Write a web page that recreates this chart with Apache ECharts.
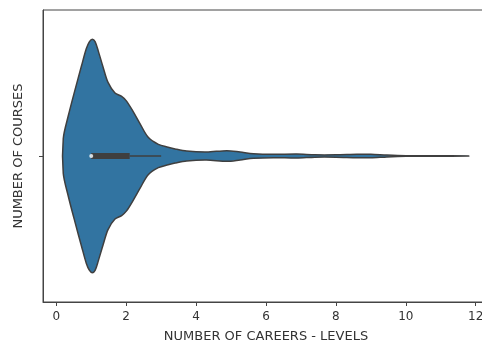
<!DOCTYPE html>
<html><head><meta charset="utf-8">
<script src="https://cdn.jsdelivr.net/npm/echarts@6/dist/echarts.min.js"></script>
<style>html,body{margin:0;padding:0;background:#fff}#c{width:482px;height:347px}</style>
</head><body><div id="c"></div>
<script>
// KDE outline of the violin: x positions and relative half-widths (peak = 1)
const densityX = [0.2, 0.34, 0.53, 0.72, 0.86, 0.95, 1.03, 1.11, 1.2, 1.34, 1.48, 1.68, 1.87, 2.01, 2.2, 2.39, 2.63, 2.92, 3.2, 3.4, 3.73, 4.3, 4.88, 5.26, 5.64, 6.21, 6.88, 7.4, 8.0, 8.6, 9.0, 9.46, 10.0, 10.8, 11.8];
const densityW = [0.15, 0.34, 0.56, 0.77, 0.92, 0.98, 1.0, 0.98, 0.9, 0.76, 0.63, 0.54, 0.51, 0.47, 0.38, 0.28, 0.16, 0.1, 0.075, 0.06, 0.042, 0.034, 0.046, 0.034, 0.02, 0.014, 0.017, 0.01, 0.01, 0.015, 0.015, 0.008, 0.003, 0.002, 0.001];
// inner box
const boxQ1 = 1.0;
const boxMedian = 1.0;
const boxQ3 = 2.1;
const whiskerHigh = 3.0;
const xTicks = [0, 2, 4, 6, 8, 10, 12];
const xTitle = 'NUMBER OF CAREERS - LEVELS';
const yTitle = 'NUMBER OF COURSES';
const violinHalfWidth = 0.4;

const chart = echarts.init(document.getElementById('c'), null, {renderer: 'canvas'});
const axisColor = '#444';
const textColor = '#333';
const font = 'DejaVu Sans';

chart.setOption({
  animation: false,
  backgroundColor: '#fff',
  grid: {left: 43, top: 10, width: 446, height: 292, show: true, borderColor: axisColor, borderWidth: 1, backgroundColor: 'transparent', outerBoundsMode: 'none', containLabel: false},
  xAxis: {
    type: 'value', min: -0.38, max: 12.38,
    splitLine: {show: false},
    axisLine: {show: true, onZero: false, lineStyle: {color: axisColor, width: 1}},
    axisTick: {show: true, length: 4, inside: false, customValues: xTicks, lineStyle: {color: axisColor}},
    axisLabel: {customValues: xTicks, color: textColor, fontSize: 12, fontFamily: font, margin: 9},
    name: xTitle, nameLocation: 'middle', nameGap: 28,
    nameTextStyle: {color: textColor, fontSize: 13, fontFamily: font}
  },
  yAxis: {
    type: 'value', min: -0.5, max: 0.5,
    splitLine: {show: false},
    axisLine: {show: true, onZero: false, lineStyle: {color: axisColor, width: 1}},
    axisTick: {show: true, length: 4, inside: false, customValues: [0], lineStyle: {color: axisColor}},
    axisLabel: {show: false},
    name: yTitle, nameLocation: 'middle', nameGap: 18,
    nameTextStyle: {color: textColor, fontSize: 13, fontFamily: font}
  },
  series: [
    {
      type: 'custom',
      z: 2,
      data: densityX.map((x, i) => [x, densityW[i]]),
      renderItem: function (params, api) {
        if (params.dataIndex !== 0) return null;
        const top = densityX.map((x, i) => api.coord([x, densityW[i] * violinHalfWidth]));
        const bot = densityX.map((x, i) => api.coord([x, -densityW[i] * violinHalfWidth])).reverse();
        return {
          type: 'polygon',
          shape: {points: top.concat(bot), smooth: 0.3},
          style: {fill: '#3274a1', stroke: '#3f3f3f', lineWidth: 1.5, lineJoin: 'round'}
        };
      }
    },
    {
      type: 'line', z: 3, symbol: 'none', silent: true,
      data: [[boxQ3, 0], [whiskerHigh, 0]],
      lineStyle: {color: '#3f3f3f', width: 1.5}
    },
    {
      type: 'line', z: 4, symbol: 'none', silent: true,
      data: [[boxQ1, 0], [boxQ3, 0]],
      lineStyle: {color: '#3f3f3f', width: 6, cap: 'butt'}
    },
    {
      type: 'scatter', z: 5, symbol: 'circle', symbolSize: 4, silent: true,
      data: [[boxMedian, 0]],
      itemStyle: {color: '#fff'}
    }
  ]
});
</script>
</body></html>
